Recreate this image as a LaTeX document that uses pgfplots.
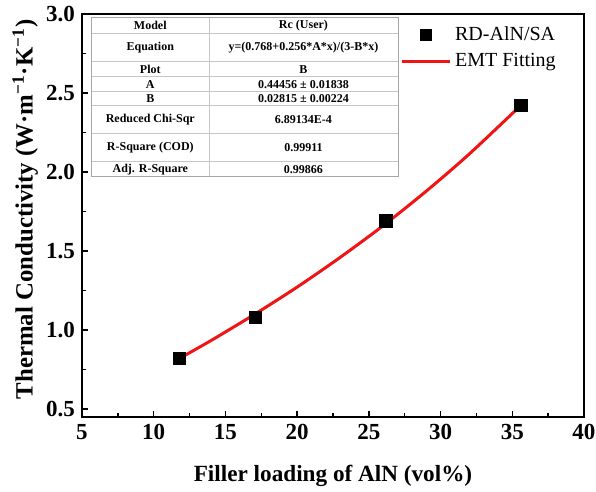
\documentclass[border=0pt]{standalone}
\usepackage{pgfplots}
\pgfplotsset{compat=1.18}
\usepackage{fontspec}
\setmainfont{Liberation Serif}
\definecolor{fitred}{RGB}{240,20,20}
\begin{document}
\begin{tikzpicture}
\useasboundingbox (-41pt,-37.5pt) rectangle (257pt,208.5pt);
\begin{axis}[
  scale only axis,
  width=251pt, height=201.5pt,
  at={(0,0)}, anchor=south west,
  xmin=5, xmax=40, ymin=0.45, ymax=3.0,
  xtick={5,10,...,40}, ytick={0.5,1.0,...,3.0},
  minor x tick num=1, minor y tick num=1,
  tick pos=left, tick align=inside,
  major tick length=3pt, minor tick length=1.8pt,
  tick style={line width=0.7pt, black},
  axis line style={line width=1pt},
  /pgf/number format/assume math mode=true,
  yticklabel style={/pgf/number format/fixed, /pgf/number format/fixed zerofill, /pgf/number format/precision=1},
  ticklabel style={font=\bfseries\fontsize{11.5}{13}\selectfont},
  xlabel={Filler loading of AlN (vol\%)},
  ylabel={Thermal Conductivity (W·m\textsuperscript{−1}·K\textsuperscript{−1})},
  every axis x label/.style={at={(axis description cs:0.5,-0.147)}, anchor=center, font=\bfseries\fontsize{11.6}{14}\selectfont},
  every axis y label/.style={at={(axis description cs:-0.113,0.515)}, rotate=90, anchor=center, font=\bfseries\fontsize{12.4}{14}\selectfont},
  legend style={draw=none, fill=none, at={(axis description cs:0.629,0.985)}, anchor=north west,
    font=\fontsize{10}{12}\selectfont, row sep=1pt, inner sep=1pt},
  legend cell align=left,
  legend image code/.code={\draw[#1] (0pt,0pt) -- (24pt,0pt);},
]
% table
\fill[white] (rel axis cs:0.0193,0.5963) rectangle (rel axis cs:0.6295,0.9918);
\draw[gray!45, line width=0.4pt] (rel axis cs:0.0193,0.9519) -- (rel axis cs:0.6295,0.9519);
\draw[gray!45, line width=0.4pt] (rel axis cs:0.0193,0.8816) -- (rel axis cs:0.6295,0.8816);
\draw[gray!45, line width=0.4pt] (rel axis cs:0.0193,0.8444) -- (rel axis cs:0.6295,0.8444);
\draw[gray!45, line width=0.4pt] (rel axis cs:0.0193,0.8072) -- (rel axis cs:0.6295,0.8072);
\draw[gray!45, line width=0.4pt] (rel axis cs:0.0193,0.7742) -- (rel axis cs:0.6295,0.7742);
\draw[gray!45, line width=0.4pt] (rel axis cs:0.0193,0.7040) -- (rel axis cs:0.6295,0.7040);
\draw[gray!45, line width=0.4pt] (rel axis cs:0.0193,0.6335) -- (rel axis cs:0.6295,0.6335);
\draw[gray!45, line width=0.4pt] (rel axis cs:0.2530,0.5963) -- (rel axis cs:0.2530,0.9918);
\draw[gray!70, line width=0.5pt] (rel axis cs:0.0193,0.5963) rectangle (rel axis cs:0.6295,0.9918);
\begin{scope}[every node/.style={font=\bfseries\fontsize{6}{7}\selectfont, inner sep=0pt}]
\node at (rel axis cs:0.1361,0.9719) {Model};
\node at (rel axis cs:0.4412,0.9719) {Rc (User)};
\node at (rel axis cs:0.1361,0.9167) {Equation};
\node at (rel axis cs:0.4412,0.9167) {y=(0.768+0.256*A*x)/(3-B*x)};
\node at (rel axis cs:0.1361,0.8630) {Plot};
\node at (rel axis cs:0.4412,0.8630) {B};
\node at (rel axis cs:0.1361,0.8258) {A};
\node at (rel axis cs:0.4412,0.8258) {0.44456 ± 0.01838};
\node at (rel axis cs:0.1361,0.7907) {B};
\node at (rel axis cs:0.4412,0.7907) {0.02815 ± 0.00224};
\node at (rel axis cs:0.1361,0.7391) {Reduced Chi-Sqr};
\node at (rel axis cs:0.4412,0.7391) {6.89134E-4};
\node at (rel axis cs:0.1361,0.6688) {R-Square (COD)};
\node at (rel axis cs:0.4412,0.6688) {0.99911};
\node at (rel axis cs:0.1361,0.6149) {Adj. R-Square};
\node at (rel axis cs:0.4412,0.6149) {0.99866};
\end{scope}
\addplot[only marks, mark=square*, mark size=3.1pt, black, fill=black,
  legend image code/.code={\node[draw=black, fill=black, minimum size=5.8pt, inner sep=0pt] at (9pt,0pt) {};}]
  coordinates {(11.8,0.82) (17.1,1.08) (26.2,1.69) (35.6,2.42)};
\addlegendentry{RD-AlN/SA}
\addplot[fitred, line width=1.5pt, smooth, no marks]
  coordinates {(11.8,0.821) (14,0.934) (17,1.098) (20,1.272) (23,1.460) (26,1.661) (29,1.879) (32,2.114) (35.6,2.422)};
\addlegendentry{EMT Fitting}
\end{axis}
\end{tikzpicture}
\end{document}
